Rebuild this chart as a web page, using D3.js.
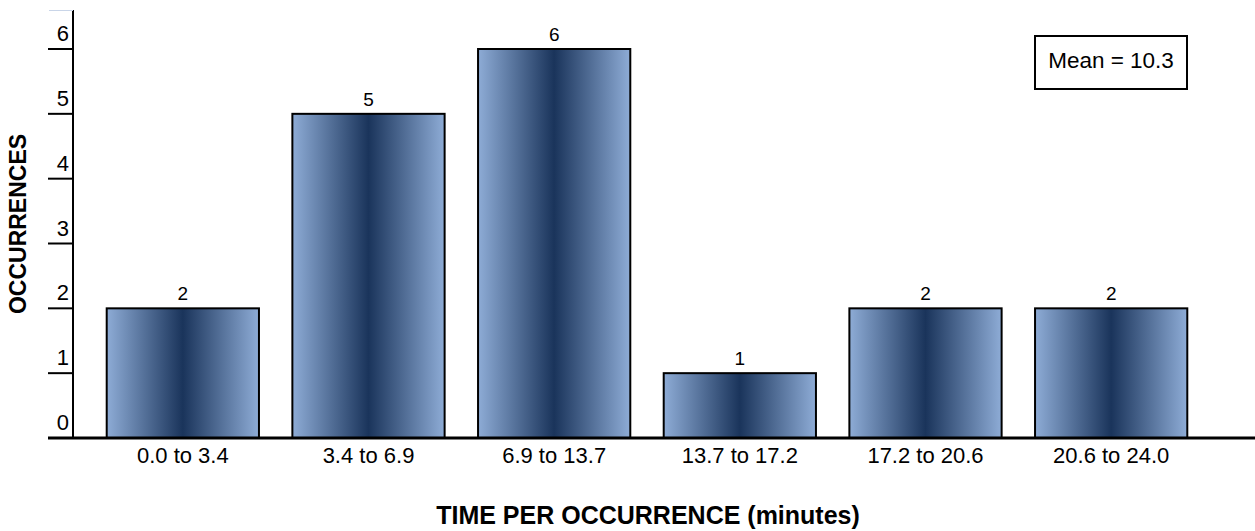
<!DOCTYPE html>
<html>
<head>
<meta charset="utf-8">
<script src="https://cdn.jsdelivr.net/npm/d3@7"></script>
<style>
  body { margin: 0; background: #fff; }
  svg { display: block; font-family: "Liberation Sans", Arial, Helvetica, sans-serif; }
</style>
</head>
<body>
<svg id="chart" width="1255" height="531"></svg>
<script>
// Datos del histograma
const categories = ['0.0 to 3.4', '3.4 to 6.9', '6.9 to 13.7', '13.7 to 17.2', '17.2 to 20.6', '20.6 to 24.0'];
const occurrences = [2, 5, 6, 1, 2, 2];
const yTicks = [0, 1, 2, 3, 4, 5, 6];
const meanLabel = 'Mean = 10.3';
const xTitle = 'TIME PER OCCURRENCE (minutes)';
const yTitle = 'OCCURRENCES';

const svg = d3.select('#chart');

// Escalas
const x = d3.scaleBand()
  .domain(categories)
  .range([90, 1204])
  .paddingInner(0.18)
  .paddingOuter(0.09);

const y = d3.scaleLinear()
  .domain([0, 6])
  .range([438, 49]);

// Degradado horizontal de las barras
const grad = svg.append('defs').append('linearGradient')
  .attr('id', 'barGrad')
  .attr('x1', '0%').attr('x2', '100%')
  .attr('y1', '0%').attr('y2', '0%');
grad.append('stop').attr('offset', '0%').attr('stop-color', '#8eacd6');
grad.append('stop').attr('offset', '50%').attr('stop-color', '#1a345b');
grad.append('stop').attr('offset', '100%').attr('stop-color', '#8eacd6');

// Barras
svg.selectAll('.bar')
  .data(occurrences)
  .enter()
  .append('rect')
  .attr('class', 'bar')
  .attr('x', (d, i) => x(categories[i]))
  .attr('y', d => y(d))
  .attr('width', x.bandwidth())
  .attr('height', d => y(0) - y(d))
  .attr('fill', 'url(#barGrad)')
  .attr('stroke', '#000')
  .attr('stroke-width', 2);

// Valores encima de las barras
svg.selectAll('.val')
  .data(occurrences)
  .enter()
  .append('text')
  .attr('class', 'val')
  .attr('x', (d, i) => x(categories[i]) + x.bandwidth() / 2)
  .attr('y', d => y(d) - 8)
  .attr('text-anchor', 'middle')
  .attr('font-size', 19)
  .text(d => d);

// Eje Y: línea y marcas
svg.append('line')
  .attr('x1', 73).attr('x2', 73)
  .attr('y1', 10).attr('y2', 438)
  .attr('stroke', '#000').attr('stroke-width', 2);

svg.append('line')
  .attr('x1', 49).attr('x2', 73)
  .attr('y1', 10.5).attr('y2', 10.5)
  .attr('stroke', '#c9d5e8').attr('stroke-width', 1);

svg.selectAll('.ytick')
  .data(yTicks)
  .enter()
  .append('line')
  .attr('class', 'ytick')
  .attr('x1', 48).attr('x2', 73)
  .attr('y1', d => y(d)).attr('y2', d => y(d))
  .attr('stroke', '#000').attr('stroke-width', 2);

svg.selectAll('.ylab')
  .data(yTicks)
  .enter()
  .append('text')
  .attr('class', 'ylab')
  .attr('x', 69)
  .attr('y', d => y(d) - 8)
  .attr('text-anchor', 'end')
  .attr('font-size', 22)
  .text(d => d);

// Eje X
svg.append('line')
  .attr('x1', 48).attr('x2', 1255)
  .attr('y1', 438).attr('y2', 438)
  .attr('stroke', '#000').attr('stroke-width', 3);

svg.selectAll('.xlab')
  .data(categories)
  .enter()
  .append('text')
  .attr('class', 'xlab')
  .attr('x', d => x(d) + x.bandwidth() / 2)
  .attr('y', 463)
  .attr('text-anchor', 'middle')
  .attr('font-size', 22)
  .text(d => d);

// Títulos
svg.append('text')
  .attr('x', 648)
  .attr('y', 524)
  .attr('text-anchor', 'middle')
  .attr('font-size', 25)
  .attr('font-weight', 'bold')
  .text(xTitle);

svg.append('text')
  .attr('transform', 'translate(26, 224) rotate(-90)')
  .attr('text-anchor', 'middle')
  .attr('font-size', 23)
  .attr('font-weight', 'bold')
  .text(yTitle);

// Cuadro de la media
svg.append('rect')
  .attr('x', 1035).attr('y', 36)
  .attr('width', 152).attr('height', 53)
  .attr('fill', '#fff')
  .attr('stroke', '#000').attr('stroke-width', 2);

svg.append('text')
  .attr('x', 1111)
  .attr('y', 68)
  .attr('text-anchor', 'middle')
  .attr('font-size', 22.5)
  .text(meanLabel);
</script>
</body>
</html>
